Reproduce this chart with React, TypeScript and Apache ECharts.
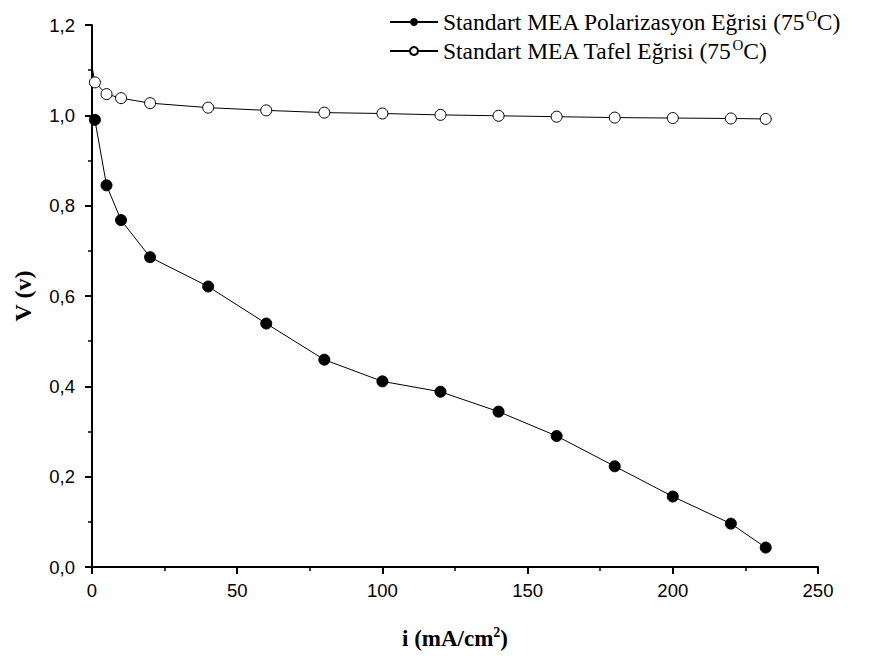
import React, { useEffect, useRef } from "react";
import * as echarts from "echarts";

const currentDensity = [1, 5, 10, 20, 40, 60, 80, 100, 120, 140, 160, 180, 200, 220, 232];
const polarizationV = [0.99, 0.845, 0.768, 0.686, 0.621, 0.539, 0.459, 0.411, 0.388, 0.344, 0.29, 0.223, 0.156, 0.096, 0.043];
const tafelV = [1.073, 1.047, 1.038, 1.027, 1.017, 1.011, 1.006, 1.004, 1.001, 0.999, 0.997, 0.995, 0.994, 0.993, 0.992];
const tafelStart = [0, 1.108];
const seriesNames = ["Standart MEA Polarizasyon Eğrisi", "Standart MEA Tafel Eğrisi"];
const yTicks = ["0,0", "0,2", "0,4", "0,6", "0,8", "1,0", "1,2"];

export default function App() {
  const ref = useRef<HTMLDivElement>(null);
  useEffect(() => {
    if (!ref.current) return;
    const chart = echarts.init(ref.current, undefined, { renderer: "svg" });
    const polData = currentDensity.map((x, i) => [x, polarizationV[i]]);
    const tafData: any[] = [
      { value: tafelStart, symbol: "none" },
      ...currentDensity.map((x, i) => [x, tafelV[i]]),
    ];
    const axisCommon = {
      axisLine: { show: true, lineStyle: { color: "#000", width: 2 } },
      axisTick: { show: true, inside: false, length: 7, lineStyle: { color: "#000", width: 2 } },
      minorTick: { show: true, splitNumber: 2, length: 4, lineStyle: { color: "#000", width: 1.5 } },
      splitLine: { show: false },
      axisLabel: { color: "#000", fontFamily: "Liberation Sans, Arial", fontSize: 18.5 },
    };
    chart.setOption({
      animation: false,
      backgroundColor: "#fff",
      grid: { left: 92, right: 59, top: 25, bottom: 89 },
      legend: {
        orient: "vertical",
        left: 384,
        top: 3,
        itemWidth: 48,
        itemHeight: 10,
        itemGap: 1,
        data: seriesNames,
        formatter: (n: string) => `${n} (75{sup|O}C)`,
        textStyle: {
          color: "#000",
          fontFamily: "Liberation Serif, Times New Roman",
          fontSize: 23.5,
          lineHeight: 28,
          rich: {
            sup: { fontSize: 15, lineHeight: 28, verticalAlign: "top", padding: [0, 0, 12, 0], fontFamily: "Liberation Serif", color: "#000" },
          },
        },
      },
      xAxis: {
        type: "value",
        min: 0,
        max: 250,
        interval: 50,
        name: "i (mA/cm{sup|2})",
        nameLocation: "middle",
        nameGap: 58,
        nameTextStyle: {
          color: "#000",
          fontFamily: "Liberation Serif, Times New Roman",
          fontWeight: "bold",
          fontSize: 23,
          rich: {
            sup: { fontSize: 14, fontWeight: "bold", padding: [0, 0, 12, 0], fontFamily: "Liberation Serif", color: "#000" },
          },
        },
        ...axisCommon,
        axisLabel: { ...axisCommon.axisLabel, margin: 14 },
      },
      yAxis: {
        type: "value",
        min: 0,
        max: 1.2,
        interval: 0.2,
        name: "V (v)",
        nameLocation: "middle",
        nameGap: 57,
        nameRotate: 90,
        nameTextStyle: {
          color: "#000",
          fontFamily: "Liberation Serif, Times New Roman",
          fontWeight: "bold",
          fontSize: 24,
        },
        ...axisCommon,
        axisLabel: {
          ...axisCommon.axisLabel,
          margin: 17,
          formatter: (v: number) => yTicks[Math.round(v / 0.2)] ?? "",
        },
      },
      series: [
        {
          name: seriesNames[0],
          type: "line",
          data: polData,
          symbol: "circle",
          symbolSize: 11,
          itemStyle: { color: "#000", borderColor: "#000" },
          lineStyle: { color: "#000", width: 1 },
          z: 3,
        },
        {
          name: seriesNames[1],
          type: "line",
          data: tafData,
          symbol: "circle",
          symbolSize: 11,
          itemStyle: { color: "#fff", borderColor: "#000", borderWidth: 1 },
          lineStyle: { color: "#000", width: 1 },
          z: 2,
        },
      ],
    });
    return () => chart.dispose();
  }, []);
  return (
    <div
      ref={ref}
      style={{ position: "absolute", left: 0, top: 0, width: 877, height: 656, background: "#fff" }}
    />
  );
}
